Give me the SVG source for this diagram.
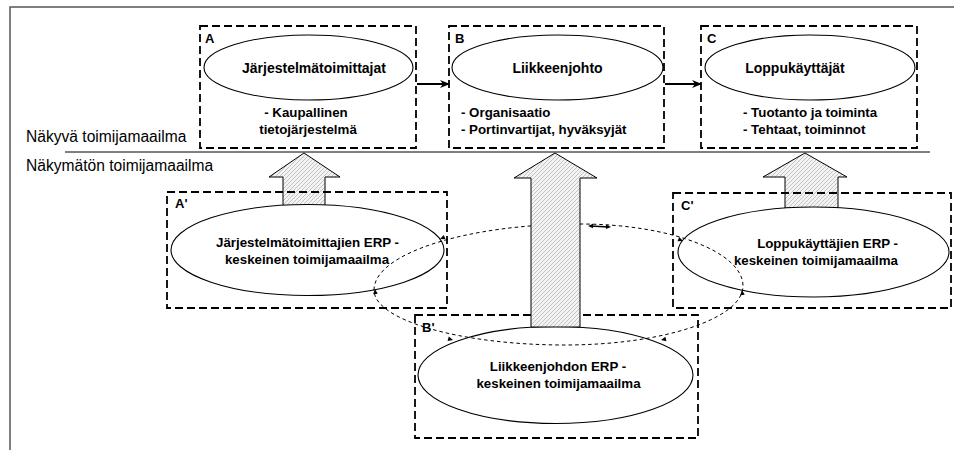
<svg xmlns="http://www.w3.org/2000/svg" width="954" height="450" viewBox="0 0 954 450">
  <defs>
    <pattern id="hatch" patternUnits="userSpaceOnUse" width="4" height="4">
      <rect width="4" height="4" fill="#f3f3f3"/>
      <path d="M-1,1 l2,-2 M0,4 l4,-4 M3,5 l2,-2" stroke="#bdbdbd" stroke-width="0.9"/>
    </pattern>
    <marker id="head" markerWidth="10" markerHeight="8" refX="9" refY="4" orient="auto" markerUnits="userSpaceOnUse">
      <path d="M0,0 L10,4 L0,8 L3,4 z" fill="#000"/>
    </marker>
    <path id="tick" d="M0,0 L-5,-2.3 L-5,2.3 z" fill="#000"/>
    <style>
      .box { fill: none; stroke: #000; stroke-width: 1.8; stroke-dasharray: 8 4; }
      .ell { fill: #fff; stroke: #000; stroke-width: 1.1; }
      .big { fill: url(#hatch); stroke: #000; stroke-width: 1; }
      .loop { fill: none; stroke: #000; stroke-width: 1; stroke-dasharray: 3.5 3; }
      .lab { font-family: "Liberation Sans", Arial, sans-serif; font-weight: bold; font-size: 13px; fill: #000; }
      .t14 { font-family: "Liberation Sans", Arial, sans-serif; font-weight: bold; font-size: 14px; fill: #000; text-anchor: middle; }
      .t13 { font-family: "Liberation Sans", Arial, sans-serif; font-weight: bold; font-size: 13.3px; fill: #000; }
      .mid { text-anchor: middle; }
      .plain { font-family: "Liberation Sans", Arial, sans-serif; font-size: 15.6px; fill: #000; }
    </style>
  </defs>

  <!-- frame and separator between visible / invisible worlds -->
  <path d="M10,450 V7 H954" fill="none" stroke="#555" stroke-width="1.5"/>
  <line x1="65" y1="152" x2="930" y2="152" stroke="#000" stroke-width="1"/>
  <text class="plain" x="26" y="142">Näkyvä toimijamaailma</text>
  <text class="plain" x="26" y="171">Näkymätön toimijamaailma</text>

  <!-- visible world -->
  <g id="nodeA">
    <rect class="box" x="200" y="26" width="216" height="122"/>
    <text class="lab" x="205" y="43">A</text>
    <ellipse class="ell" cx="308.5" cy="67.5" rx="104.5" ry="32.5"/>
    <text class="t14" x="314" y="72.5">Järjestelmätoimittajat</text>
    <text class="t13 mid" x="306" y="117">- Kaupallinen</text>
    <text class="t13 mid" x="308" y="134">tietojärjestelmä</text>
  </g>
  <g id="nodeB">
    <rect class="box" x="449" y="26" width="215" height="122"/>
    <text class="lab" x="455" y="43">B</text>
    <ellipse class="ell" cx="557.5" cy="67.5" rx="105.5" ry="32.5"/>
    <text class="t14" x="557.5" y="72.5">Liikkeenjohto</text>
    <text class="t13" x="461" y="117">- Organisaatio</text>
    <text class="t13" x="461" y="134">- Portinvartijat, hyväksyjät</text>
  </g>
  <g id="nodeC">
    <rect class="box" x="701" y="26" width="216" height="122"/>
    <text class="lab" x="707" y="43">C</text>
    <ellipse class="ell" cx="810" cy="67.5" rx="105" ry="32.5"/>
    <text class="t14" x="795" y="72.5">Loppukäyttäjät</text>
    <text class="t13" x="743" y="117">- Tuotanto ja toiminta</text>
    <text class="t13" x="743" y="134">- Tehtaat, toiminnot</text>
  </g>

  <!-- hatched block arrows from the invisible world upward -->
  <g id="liftA">
    <path class="big" d="M304,153 L340,177 L325,177 L325,206 L283,206 L283,177 L269,177 Z"/>
  </g>
  <g id="liftC">
    <path class="big" d="M805,153 L847,177 L838,177 L838,208 L785,208 L785,177 L763,177 Z"/>
  </g>

  <!-- invisible world -->
  <g id="nodeA2">
    <rect class="box" x="167" y="192" width="280" height="116"/>
    <text class="lab" x="175" y="208">A'</text>
    <ellipse class="ell" cx="307.5" cy="250" rx="136.5" ry="45.5"/>
    <text class="t13 mid" x="307.5" y="247">Järjestelmätoimittajien ERP -</text>
    <text class="t13 mid" x="307" y="264">keskeinen toimijamaailma</text>
  </g>
  <g id="nodeC2">
    <rect class="box" x="673" y="193" width="278" height="115"/>
    <text class="lab" x="681" y="210">C'</text>
    <ellipse class="ell" cx="813.5" cy="252" rx="135.5" ry="45"/>
    <text class="t13" x="898" y="248" text-anchor="end">Loppukäyttäjien ERP -</text>
    <text class="t13" x="898" y="265" text-anchor="end">keskeinen toimijamaailma</text>
  </g>
  <g id="nodeB2">
    <rect class="box" x="415" y="315" width="283" height="123"/>
    <text class="lab" x="422" y="332">B'</text>
    <ellipse class="ell" cx="555.5" cy="375" rx="137.5" ry="48.5"/>
    <text class="t13 mid" x="558" y="371">Liikkeenjohdon ERP -</text>
    <text class="t13 mid" x="558.5" y="388">keskeinen toimijamaailma</text>
  </g>

  <!-- connectors -->
  <g id="connectors">
    <line x1="417" y1="84" x2="449" y2="84" stroke="#000" stroke-width="2" marker-end="url(#head)"/>
    <line x1="665" y1="84" x2="701" y2="84" stroke="#000" stroke-width="2" marker-end="url(#head)"/>

    <!-- interaction loop between the ERP-centred worlds -->
    <path class="loop" d="M374,290 C374,253.6 466.7,224 580,224 C669.7,224 743,251.9 743,286 C743,318.5 662.9,345 565,345 C460,345 374,320 374,290 Z"/>
    <line x1="590" y1="226" x2="609" y2="227" stroke="#000" stroke-width="1.5"/>
    <use href="#tick" transform="translate(588,226) rotate(180)"/>
    <use href="#tick" transform="translate(611,227) rotate(3)"/>
    <use href="#tick" transform="translate(440,239) rotate(158)"/>
    <use href="#tick" transform="translate(375,289) rotate(-95)"/>
    <use href="#tick" transform="translate(453,340) rotate(15)"/>
    <use href="#tick" transform="translate(661,340) rotate(168)"/>
    <use href="#tick" transform="translate(742,290) rotate(-95)"/>
    <use href="#tick" transform="translate(683,241) rotate(22)"/>

    <!-- central hatched arrow drawn over the loop -->
    <path id="liftB" class="big" d="M555,153 L597,178 L580,178 L580,327 L531,327 L531,178 L514,178 Z"/>
  </g>
</svg>
